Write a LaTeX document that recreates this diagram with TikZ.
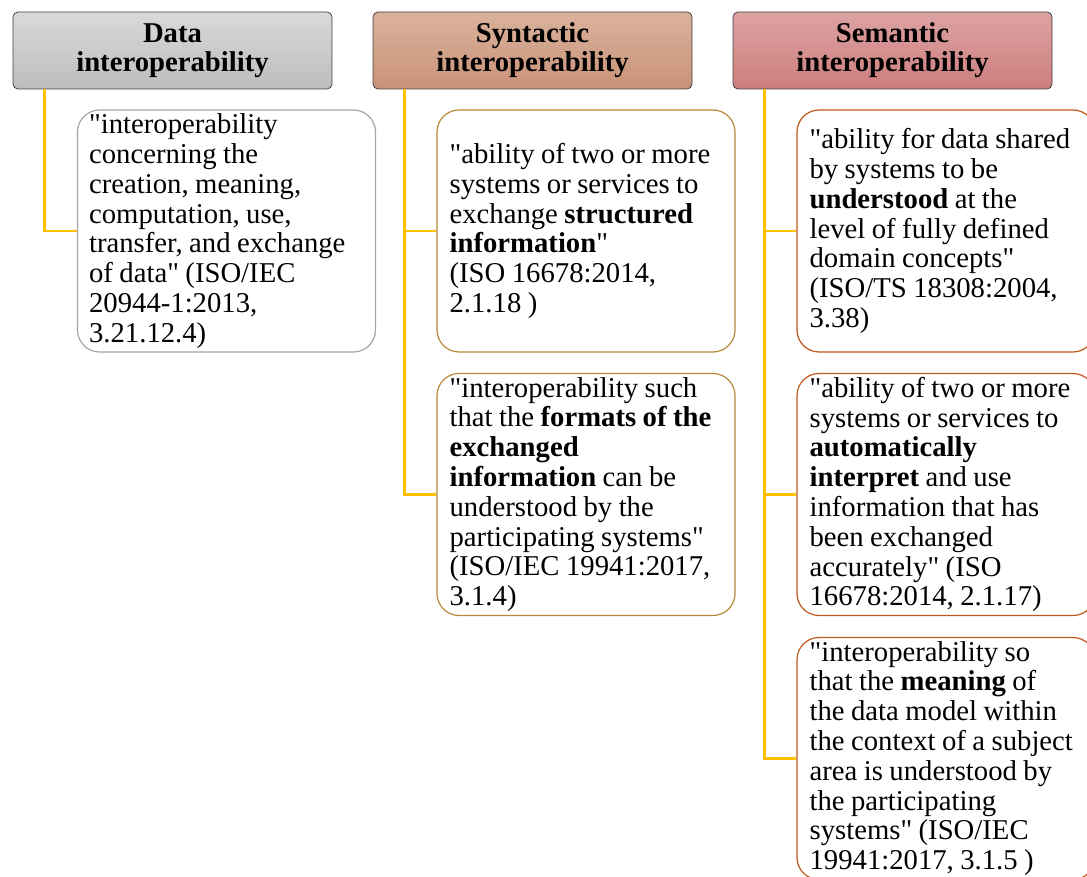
\documentclass[tikz,border=0pt]{standalone}
\usepackage{fontspec}
\setmainfont{Liberation Serif}[WordSpace=0.9]
\newcommand\dq{\XeTeXglyph\XeTeXcharglyph"22\relax}
\definecolor{hdrline}{HTML}{404040}
\definecolor{grayT}{HTML}{D9D9D9}
\definecolor{grayB}{HTML}{BDBDBD}
\definecolor{synT}{HTML}{DAB29C}
\definecolor{synB}{HTML}{C99278}
\definecolor{semT}{HTML}{DDA2A2}
\definecolor{semB}{HTML}{CD7E7E}
\definecolor{connY}{HTML}{FFC000}
\definecolor{bdGray}{HTML}{A6A6A6}
\definecolor{bdSyn}{HTML}{B8893A}
\definecolor{bdSem}{HTML}{C0581E}
\begin{document}
\begin{tikzpicture}[x=1pt,y=-1pt,
  hdr/.style={draw=hdrline, line width=0.8pt, rounded corners=5pt,
    minimum width=319pt, minimum height=77pt, align=center, inner sep=0pt,
    font=\fontsize{28.7}{29}\selectfont\bfseries},
  defbox/.style={rectangle, rounded corners=22pt, line width=1.2pt, fill=white,
    minimum width=298pt, minimum height=242pt, inner sep=0pt},
  deftext/.style={anchor=west, align=left, inner sep=0pt,
    font=\fontsize{28.7}{29.8}\selectfont},
  conn/.style={draw=connY, line width=2.5pt}]
\useasboundingbox (0,0) rectangle (1087,877);
% headers
\node[hdr, top color=grayT, bottom color=grayB] (hD) at (172.5,50.5) {Data\\interoperability};
\node[hdr, top color=synT, bottom color=synB] (hS) at (532.5,50.5) {Syntactic\\interoperability};
\node[hdr, top color=semT, bottom color=semB] (hM) at (892.5,50.5) {Semantic\\interoperability};
% definition boxes
\node[defbox, draw=bdGray] (d1) at (226.5,231) {};
\node[defbox, draw=bdSyn] (s1) at (586,231) {};
\node[defbox, draw=bdSyn] (s2) at (586,494.5) {};
\node[defbox, draw=bdSem] (m1) at (946,231) {};
\node[defbox, draw=bdSem] (m2) at (946,494.5) {};
\node[defbox, draw=bdSem] (m3) at (946,758.5) {};
% texts
\node[deftext] (d1t) at ([xshift=12pt]d1.west) {\dq interoperability\\concerning the\\creation, meaning,\\computation, use,\\transfer, and exchange\\of data\dq{} (ISO/IEC\\20944-1:2013,\\3.21.12.4)};
\node[deftext] (s1t) at ([xshift=13pt]s1.west) {\dq ability of two or more\\systems or services to\\exchange \textbf{structured}\\\textbf{information}\dq\\(ISO 16678:2014,\\2.1.18 )};
\node[deftext] (s2t) at ([xshift=13pt]s2.west) {\dq interoperability such\\that the \textbf{formats of the}\\\textbf{exchanged}\\\textbf{information} can be\\understood by the\\participating systems\dq\\(ISO/IEC 19941:2017,\\3.1.4)};
\node[deftext] (m1t) at ([xshift=13pt]m1.west) {\dq ability for data shared\\by systems to be\\\textbf{understood} at the\\level of fully defined\\domain concepts\dq\\(ISO/TS 18308:2004,\\3.38)};
\node[deftext] (m2t) at ([xshift=13pt]m2.west) {\dq ability of two or more\\systems or services to\\\textbf{automatically}\\\textbf{interpret} and use\\information that has\\been exchanged\\accurately\dq{} (ISO\\16678:2014, 2.1.17)};
\node[deftext] (m3t) at ([xshift=13pt]m3.west) {\dq interoperability so\\that the \textbf{meaning} of\\the data model within\\the context of a subject\\area is understood by\\the participating\\systems\dq{} (ISO/IEC\\19941:2017, 3.1.5 )};
% connectors
\draw[conn] ([xshift=32pt]hD.south west) |- (d1.west);
\draw[conn] ([xshift=32pt]hS.south west) |- (s1.west);
\draw[conn] ([xshift=32pt]hS.south west) |- (s2.west);
\draw[conn] ([xshift=32pt]hM.south west) |- (m1.west);
\draw[conn] ([xshift=32pt]hM.south west) |- (m2.west);
\draw[conn] ([xshift=32pt]hM.south west) |- (m3.west);
\end{tikzpicture}
\end{document}
